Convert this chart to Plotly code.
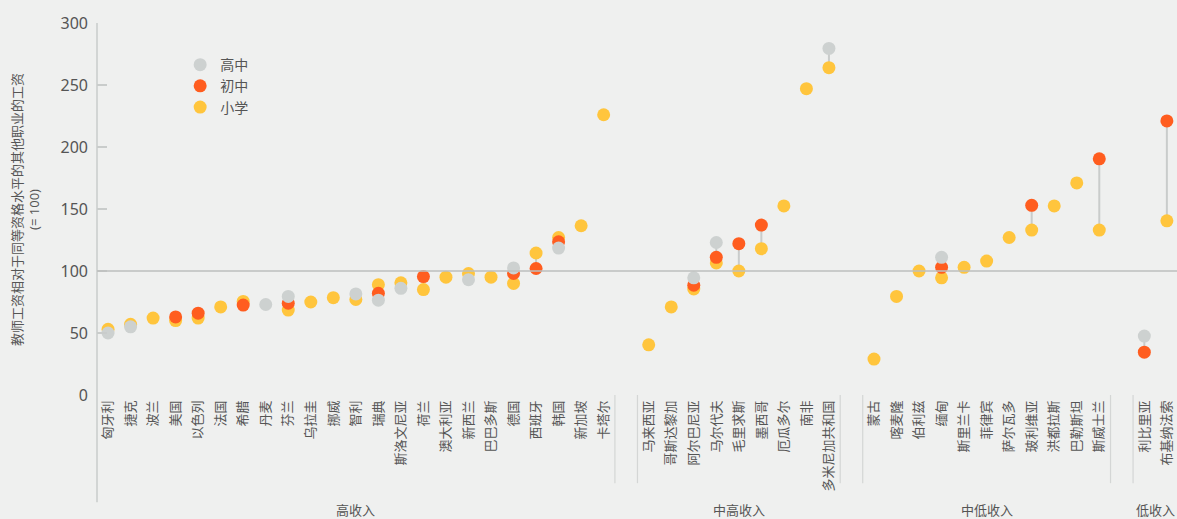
import plotly.graph_objects as go

# ---- data ----
groups = ["高收入", "中高收入", "中低收入", "低收入"]

high_countries = ["匈牙利", "捷克", "波兰", "美国", "以色列", "法国", "希腊", "丹麦", "芬兰", "乌拉圭",
                  "挪威", "智利", "瑞典", "斯洛文尼亚", "荷兰", "澳大利亚", "新西兰", "巴巴多斯", "德国",
                  "西班牙", "韩国", "新加坡", "卡塔尔"]
high_upper = [50, 55, None, None, None, None, None, 73, 79.5, None,
              None, 81.5, 76.5, 86, None, None, 93, None, 102.5,
              None, 118.5, None, None]
high_lower = [None, None, None, 63, 66, None, 72.5, None, 74, None,
              None, None, 82, None, 95.5, None, None, None, 98,
              102, 123.5, None, None]
high_primary = [53, 57, 62, 60, 62, 71, 75.5, None, 68.5, 75,
                78.5, 77, 89, 90.5, 85, 95, 98, 95, 90,
                114.5, 127, 136.5, 226]

um_countries = ["马来西亚", "哥斯达黎加", "阿尔巴尼亚", "马尔代夫", "毛里求斯", "墨西哥", "厄瓜多尔",
                "南非", "多米尼加共和国"]
um_upper = [None, None, 94.5, 123, None, None, None, None, 279.5]
um_lower = [None, None, 88.5, 111, 122, 137, None, None, None]
um_primary = [40.5, 71, 85.5, 106.5, 100, 118, 152.5, 247, 264]

lm_countries = ["蒙古", "喀麦隆", "伯利兹", "缅甸", "斯里兰卡", "菲律宾", "萨尔瓦多", "玻利维亚",
                "洪都拉斯", "巴勒斯坦", "斯威士兰"]
lm_upper = [None, None, None, 111, None, None, None, None, None, None, None]
lm_lower = [None, None, None, 103, None, None, None, 153, None, None, 190.5]
lm_primary = [29, 79.5, 100, 94.5, 103, 108, 127, 133, 152.5, 171, 133]

low_countries = ["利比里亚", "布基纳法索"]
low_upper = [47.5, None]
low_lower = [34.5, 221]
low_primary = [None, 140.5]

series_names = ["高中", "初中", "小学"]
y_ticks = [0, 50, 100, 150, 200, 250, 300]
reference_value = 100

# ---- layout helpers ----
bg = "#eff0ef"
col_upper = "#cdd1d0"
col_lower = "#ff5d1f"
col_primary = "#ffc53d"
line_col = "#c9cccb"
text_col = "#555555"
font_family = "Noto Sans, Noto Sans CJK SC, sans-serif"

group_data = [
    (high_countries, high_upper, high_lower, high_primary),
    (um_countries, um_upper, um_lower, um_primary),
    (lm_countries, lm_upper, lm_lower, lm_primary),
    (low_countries, low_upper, low_lower, low_primary),
]

xs, names, ups, lows, prims = [], [], [], [], []
group_spans = []
pos = 0
for countries, u, l, p in group_data:
    start = pos
    for i, c in enumerate(countries):
        xs.append(pos)
        names.append(c)
        ups.append(u[i])
        lows.append(l[i])
        prims.append(p[i])
        pos += 1
    group_spans.append((start, pos - 1))
    pos += 1  # blank slot between groups

# connector lines
lx, ly = [], []
for x, a, b, c in zip(xs, ups, lows, prims):
    vals = [v for v in (a, b, c) if v is not None]
    if len(vals) > 1:
        lx += [x, x, None]
        ly += [min(vals), max(vals), None]

fig = go.Figure()
fig.add_trace(go.Scatter(x=lx, y=ly, mode="lines", line=dict(color=line_col, width=2),
                         showlegend=False, hoverinfo="skip"))
for vals, col, nm in [(prims, col_primary, series_names[2]),
                      (lows, col_lower, series_names[1]),
                      (ups, col_upper, series_names[0])]:
    fig.add_trace(go.Scatter(x=xs, y=vals, mode="markers", name=nm,
                             marker=dict(color=col, size=13, line=dict(width=0))))

shapes = []
# y axis line extended down to group bracket
shapes.append(dict(type="line", xref="paper", yref="paper", x0=0, x1=0, y0=-0.288, y1=1,
                   line=dict(color=line_col, width=1.5)))
# reference line at 100
shapes.append(dict(type="line", xref="paper", yref="y", x0=0, x1=1, y0=reference_value,
                   y1=reference_value, line=dict(color="#bdbfbe", width=1.5)))
# group separators
for gi, (s, e) in enumerate(group_spans):
    if gi > 0:
        shapes.append(dict(type="line", xref="x", yref="paper", x0=s - 0.5, x1=s - 0.5,
                           y0=-0.237, y1=0, line=dict(color="#d4d6d5", width=1.2)))
    if gi < len(group_spans) - 1:
        shapes.append(dict(type="line", xref="x", yref="paper", x0=e + 0.5, x1=e + 0.5,
                           y0=-0.237, y1=0, line=dict(color="#d4d6d5", width=1.2)))

annotations = []
for g, (s, e) in zip(groups, group_spans):
    annotations.append(dict(text=g, x=(s + e) / 2, xref="x", y=-0.309, yref="paper",
                            showarrow=False, xanchor="center", yanchor="middle",
                            font=dict(size=13, color=text_col, family=font_family)))
annotations.append(dict(text="教师工资相对于同等资格水平的其他职业的工资<br>(= 100)",
                        textangle=-90, x=-0.0667, xref="paper", y=0.5, yref="paper",
                        showarrow=False, xanchor="center", yanchor="middle",
                        font=dict(size=13, color=text_col, family=font_family)))

fig.update_layout(
    width=1177, height=519,
    margin=dict(l=97, r=0, t=23, b=124),
    paper_bgcolor=bg, plot_bgcolor=bg,
    font=dict(family=font_family, color=text_col),
    shapes=shapes, annotations=annotations,
    legend=dict(x=0.077, y=0.93, xanchor="left", yanchor="top", traceorder="reversed",
                bgcolor="rgba(0,0,0,0)", font=dict(size=14, color=text_col), itemwidth=30),
    xaxis=dict(range=[-0.49, 47.45], tickmode="array", tickvals=xs, ticktext=names,
               tickangle=-90, tickfont=dict(size=13, color=text_col), showgrid=False,
               zeroline=False, showline=False, ticks="", ticklabelstandoff=2),
    yaxis=dict(range=[0, 300], tickmode="array", tickvals=y_ticks, ticks="inside", ticklen=10,
               tickcolor=line_col, tickwidth=1.5, showgrid=False, zeroline=False, showline=False,
               tickfont=dict(size=16, color=text_col), ticklabelstandoff=8),
)

fig.write_html("out.html", config={"displayModeBar": False},
               post_script="document.body.style.margin='0';document.body.style.overflow='hidden';"
                           "document.body.style.background='" + bg + "';")
